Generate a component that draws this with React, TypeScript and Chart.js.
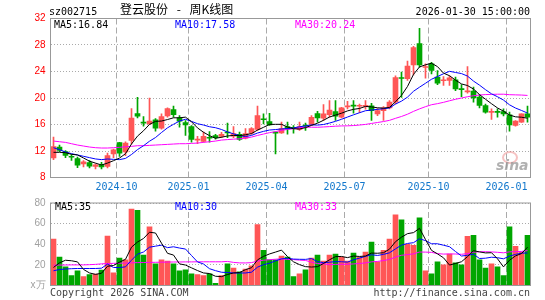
import React, { useEffect, useRef } from 'react';
import { Chart, registerables } from 'chart.js';

Chart.register(...registerables);

// ---- data ----
const weeks = [
  '2024-07-26','2024-08-02','2024-08-09','2024-08-16','2024-08-23','2024-08-30','2024-09-06','2024-09-13','2024-09-20','2024-09-27',
  '2024-09-30','2024-10-11','2024-10-18','2024-10-25','2024-11-01','2024-11-08','2024-11-15','2024-11-22','2024-11-29','2024-12-06',
  '2024-12-13','2024-12-20','2024-12-27','2025-01-03','2025-01-10','2025-01-17','2025-01-24','2025-01-27','2025-02-07','2025-02-14',
  '2025-02-21','2025-02-28','2025-03-07','2025-03-14','2025-03-21','2025-03-28','2025-04-03','2025-04-11','2025-04-18','2025-04-25',
  '2025-04-30','2025-05-09','2025-05-16','2025-05-23','2025-05-30','2025-06-06','2025-06-13','2025-06-20','2025-06-27','2025-07-04',
  '2025-07-11','2025-07-18','2025-07-25','2025-08-01','2025-08-08','2025-08-15','2025-08-22','2025-08-29','2025-09-05','2025-09-12',
  '2025-09-19','2025-09-26','2025-09-30','2025-10-10','2025-10-17','2025-10-24','2025-10-31','2025-11-07','2025-11-14','2025-11-21',
  '2025-11-28','2025-12-05','2025-12-12','2025-12-19','2025-12-26','2025-12-31','2026-01-09','2026-01-16','2026-01-23','2026-01-30',
];

const opens = [
  10.95,12.6,11.9,11.1,10.87,10.06,10.26,9.66,9.96,9.66,
  11.57,13.28,11.87,13.58,17.66,16.3,16.1,16.7,15.45,17.3,
  18.26,17.0,16.3,15.7,13.65,13.43,13.98,14.34,14.2,14.78,
  14.24,14.5,13.94,14.7,15.25,16.8,16.45,14.8,14.74,15.7,
  15.5,15.25,15.85,16.0,17.66,16.95,17.5,17.96,17.1,18.66,
  18.85,18.76,18.74,18.8,17.6,18.1,18.5,19.37,23.05,22.9,
  25.0,28.2,24.6,25.15,23.15,22.6,22.64,22.74,21.3,20.93,
  21.03,20.13,18.87,17.82,17.9,17.96,17.46,15.85,16.35,17.6,
];
const highs = [
  14.1,12.9,12.07,11.47,11.07,10.57,10.57,10.06,10.3,11.67,
  12.3,13.3,13.4,18.4,20.1,17.2,20.0,16.9,17.6,18.5,
  18.77,17.36,16.6,15.85,14.2,14.84,14.94,14.5,14.8,16.2,
  15.7,14.84,15.4,15.55,18.77,17.6,17.7,14.84,16.35,16.35,
  15.85,16.35,16.2,17.36,18.0,19.0,19.6,19.6,18.6,19.5,
  19.6,19.1,19.6,19.2,18.4,18.7,19.6,23.36,23.9,25.56,
  27.8,30.5,25.15,25.4,24.15,23.25,23.35,23.15,22.04,24.75,
  21.64,20.53,19.1,18.36,18.36,18.36,17.86,16.6,17.6,18.77,
];
const lows = [
  10.7,11.9,11.0,10.57,9.5,9.6,9.46,9.3,9.3,9.46,
  11.0,11.17,11.3,13.08,17.0,15.75,16.0,15.0,15.3,17.1,
  17.1,15.6,14.34,13.33,13.1,13.33,13.33,13.8,14.0,14.0,
  14.0,13.6,13.84,14.5,15.1,16.1,15.85,11.57,14.64,14.54,
  14.7,15.1,15.1,15.85,16.35,16.6,17.1,16.6,17.0,18.36,
  17.7,17.8,18.3,16.6,17.35,16.6,18.36,19.1,20.1,22.64,
  23.5,24.65,23.0,23.65,22.0,21.9,21.9,21.1,20.2,20.73,
  19.37,18.5,17.7,16.75,17.1,17.3,15.0,15.75,16.3,16.35,
];
const closes = [
  12.68,12.1,11.35,11.05,9.86,10.36,9.7,9.9,9.6,11.32,
  12.18,11.67,13.18,16.96,17.26,16.2,16.5,15.45,17.2,18.4,
  17.5,16.5,15.95,13.74,13.75,14.2,13.92,14.0,14.5,14.72,
  14.64,13.74,14.64,15.4,17.36,16.72,15.95,14.7,15.4,15.35,
  15.42,15.7,15.78,17.1,17.0,17.6,18.16,17.26,18.5,18.74,
  18.78,18.82,18.82,18.1,18.1,18.5,19.37,23.1,22.95,24.8,
  27.6,25.0,24.7,24.15,22.24,22.68,23.05,21.38,21.26,21.03,
  20.03,18.87,17.86,17.9,17.84,17.6,15.95,16.5,17.6,17.1,
];
const volumes = [
  45,27.6,18,9.5,14.3,8.6,10.5,11,15,48,
  12.4,26.7,24.8,74,73,29.5,57,21,24.8,23.8,
  21,14.3,15.2,11.4,10.5,9.5,11.4,2,9.5,21,
  17,13.3,16,19,59,34,25,25,28.6,27.6,
  8.6,11.4,15.2,26.7,29.5,23.8,29.5,30.5,27.6,23.8,
  31.4,27.6,32.4,42,22.9,34,45,68.6,63.8,40,
  39,65.7,14.3,11.4,22.9,20,30.5,21.9,20,47.6,
  48.6,24.8,17,21,18,9.5,57,38,32.4,48.6,
];

// moving-average values before a full window exists
const priceMA5Lead = [11.8, 11.8, 11.75, 11.5];
const priceMA10Lead = [12.5, 12.2, 11.85, 11.6, 11.4, 11.2, 11.0, 10.8, 10.7];
const priceMA30Lead = [13.5,13.4,13.3,13.1,12.9,12.75,12.6,12.5,12.45,12.45,12.5,12.55,12.65,12.7,12.8,12.8,12.85,12.9,12.95,13.0,13.05,13.1,13.1,13.15,13.2,13.3,13.4,13.5,13.65];
const volMA5Lead = [17.5, 22, 24.5, 24];
const volMA10Lead = [14.3, 15.5, 16, 16.3, 16.5, 16.5, 16.5, 16.5, 16.8];
const volMA30Lead = [19.7,19.8,19.9,20,20,20,20.2,20.5,21,21.3,21.5,21.6,21.8,22,22.2,22.3,22.4,22.5,22.6,22.7,22.8,22.8,22.9,22.9,23,23,23,23,23];

const priceTicks = [8, 12, 16, 20, 24, 28, 32];
const volTicks = [0, 20, 40, 60, 80];

const stockCode = 'sz002715';
const titleText = '登云股份 - 周K线图';
const dateText = '2026-01-30 15:00:00';
const priceMALabels = ['MA5:16.84', 'MA10:17.58', 'MA30:20.24'];
const volMALabels = ['MA5:35', 'MA10:30', 'MA30:33'];

// ---- styles ----
const UP = '#ff5656';
const DOWN = '#00a600';
const MA_COLORS = ['#000000', '#0000ff', '#ff00ff'];
const MONO = "'DejaVu Sans Mono', monospace";
const SANS = "'Liberation Sans', Arial, sans-serif";

function movingAverage(values: number[], n: number, lead: number[]) {
  return values.map((_, i) => {
    if (i < n - 1) return lead[i];
    let s = 0;
    for (let j = i - n + 1; j <= i; j++) s += values[j];
    return +(s / n).toFixed(3);
  });
}

const candleColors = opens.map((o, i) => (closes[i] >= o ? UP : DOWN));
const monthStart = weeks.map((w, i) => {
  const m = w.slice(5, 7);
  return i > 0 && m !== weeks[i - 1].slice(5, 7) && ['01', '04', '07', '10'].includes(m);
});

const framePlugin = {
  id: 'frame',
  afterDraw(chart: any) {
    const { ctx, chartArea: a } = chart;
    ctx.save();
    ctx.strokeStyle = '#999';
    ctx.lineWidth = 1;
    ctx.setLineDash([]);
    ctx.strokeRect(a.left, a.top, a.right - a.left, a.bottom - a.top);
    ctx.restore();
  },
};

function xScale(showLabels: boolean, height: number) {
  return {
    offset: true,
    grid: {
      offset: true,
      drawTicks: false,
      lineWidth: 1,
      color: (c: any) => (monthStart[c.index] ? '#aaa' : 'rgba(0,0,0,0)'),
    },
    border: { display: false, dash: [6, 3] },
    ticks: {
      display: showLabels,
      autoSkip: false,
      maxRotation: 0,
      minRotation: 0,
      padding: 4,
      labelOffset: -3,
      color: '#1177cc',
      font: { family: MONO, size: 10 },
      callback: (_v: any, i: number) => (monthStart[i] ? weeks[i].slice(0, 7) : ''),
    },
    afterFit: (s: any) => { s.height = height; },
  };
}

function lineDataset(label: string, data: number[], color: string) {
  return {
    type: 'line' as const,
    label,
    data,
    borderColor: color,
    borderWidth: 1,
    pointRadius: 0,
    tension: 0,
    fill: false,
    order: 0,
  };
}

export default function App() {
  const priceRef = useRef<HTMLCanvasElement>(null);
  const volRef = useRef<HTMLCanvasElement>(null);

  useEffect(() => {
    const pMA5 = movingAverage(closes, 5, priceMA5Lead);
    const pMA10 = movingAverage(closes, 10, priceMA10Lead);
    const pMA30 = movingAverage(closes, 30, priceMA30Lead);
    const vMA5 = movingAverage(volumes, 5, volMA5Lead);
    const vMA10 = movingAverage(volumes, 10, volMA10Lead);
    const vMA30 = movingAverage(volumes, 30, volMA30Lead);

    const price = new Chart(priceRef.current as HTMLCanvasElement, {
      type: 'bar',
      data: {
        labels: weeks,
        datasets: [
          lineDataset('MA5', pMA5, MA_COLORS[0]),
          lineDataset('MA10', pMA10, MA_COLORS[1]),
          lineDataset('MA30', pMA30, MA_COLORS[2]),
          {
            label: 'body',
            data: opens.map((o, i) => [o, closes[i]]),
            backgroundColor: candleColors,
            borderWidth: 0,
            barThickness: 5,
            minBarLength: 1,
            grouped: false,
            order: 1,
          } as any,
          {
            label: 'wick',
            data: lows.map((l, i) => [l, highs[i]]),
            backgroundColor: candleColors,
            borderWidth: 0,
            barThickness: 1,
            grouped: false,
            order: 2,
          } as any,
        ],
      },
      options: {
        animation: false,
        responsive: false,
        maintainAspectRatio: false,
        events: [],
        layout: { padding: { top: 18.5, right: 14.5, left: 0, bottom: 0 } },
        plugins: { legend: { display: false }, tooltip: { enabled: false } },
        scales: {
          x: xScale(true, 14.5) as any,
          y: {
            min: 8,
            max: 32,
            afterBuildTicks: (s: any) => { s.ticks = priceTicks.map((v) => ({ value: v })); },
            grid: { color: '#aaa', drawTicks: false, lineWidth: 1 },
            border: { display: false, dash: [1, 2] },
            ticks: { color: '#ff0000', padding: 5, font: { family: SANS, size: 10 } },
            afterFit: (s: any) => { s.width = 50.5; },
          } as any,
        },
      },
      plugins: [framePlugin],
    });

    const vol = new Chart(volRef.current as HTMLCanvasElement, {
      type: 'bar',
      data: {
        labels: weeks,
        datasets: [
          lineDataset('MA5', vMA5, MA_COLORS[0]),
          lineDataset('MA10', vMA10, MA_COLORS[1]),
          lineDataset('MA30', vMA30, MA_COLORS[2]),
          {
            label: 'volume',
            data: volumes,
            backgroundColor: candleColors,
            borderWidth: 0,
            barThickness: 5,
            grouped: false,
            order: 1,
          } as any,
        ],
      },
      options: {
        animation: false,
        responsive: false,
        maintainAspectRatio: false,
        events: [],
        layout: { padding: { top: 9.5, right: 14.5, left: 0, bottom: 14.5 } },
        plugins: { legend: { display: false }, tooltip: { enabled: false } },
        scales: {
          x: xScale(false, 0) as any,
          y: {
            min: 0,
            max: 80,
            afterBuildTicks: (s: any) => { s.ticks = volTicks.map((v) => ({ value: v })); },
            grid: { color: '#aaa', drawTicks: false, lineWidth: 1 },
            border: { display: false, dash: [1, 2] },
            ticks: {
              color: '#a0a0a0',
              padding: 5,
              font: { family: SANS, size: 10 },
              callback: (v: any) => (v === 0 ? 'x万' : String(v)),
            },
            afterFit: (s: any) => { s.width = 50.5; },
          } as any,
        },
      },
      plugins: [framePlugin],
    });

    return () => {
      price.destroy();
      vol.destroy();
    };
  }, []);

  const txt = (extra: React.CSSProperties): React.CSSProperties => ({
    position: 'absolute',
    fontFamily: MONO,
    fontSize: 10,
    lineHeight: '10px',
    whiteSpace: 'pre',
    color: '#000',
    ...extra,
  });

  return (
    <div style={{ position: 'fixed', left: 0, top: 0, width: 545, height: 300, background: '#fff', overflow: 'hidden' }}>
      <canvas ref={priceRef} width={545} height={192} style={{ position: 'absolute', left: 0, top: 0 }} />
      <canvas ref={volRef} width={545} height={108} style={{ position: 'absolute', left: 0, top: 192 }} />

      <span style={txt({ left: 49, top: 7 })}>{stockCode}</span>
      <span style={txt({ left: 120, top: 3, fontFamily: "'Noto Sans CJK SC', sans-serif", fontSize: 12, lineHeight: '12px', wordSpacing: 6 })}>{titleText}</span>
      <span style={txt({ right: 15, top: 7 })}>{dateText}</span>

      <span style={txt({ left: 54, top: 19.5, color: MA_COLORS[0] })}>{priceMALabels[0]}</span>
      <span style={txt({ left: 175, top: 19.5, color: MA_COLORS[1] })}>{priceMALabels[1]}</span>
      <span style={txt({ left: 295, top: 19.5, color: MA_COLORS[2] })}>{priceMALabels[2]}</span>

      <span style={txt({ left: 55, top: 201.5, color: MA_COLORS[0] })}>{volMALabels[0]}</span>
      <span style={txt({ left: 175, top: 201.5, color: MA_COLORS[1] })}>{volMALabels[1]}</span>
      <span style={txt({ left: 295, top: 201.5, color: MA_COLORS[2] })}>{volMALabels[2]}</span>

      <span style={txt({ left: 50, top: 287.5, color: '#444' })}>Copyright 2026 SINA.COM</span>
      <span style={txt({ right: 15, top: 287.5, color: '#444' })}>http://finance.sina.com.cn</span>

      <div style={{ position: 'absolute', left: 502, top: 151, width: 12, height: 9, border: '2px solid rgba(235,120,120,0.45)', borderRadius: '50%' }} />
      <span style={txt({ left: 496, top: 158, fontFamily: "'DejaVu Sans', sans-serif", fontSize: 14, lineHeight: '14px', fontWeight: 'bold', fontStyle: 'italic', color: 'rgba(150,150,150,0.75)' })}>sina</span>
    </div>
  );
}
